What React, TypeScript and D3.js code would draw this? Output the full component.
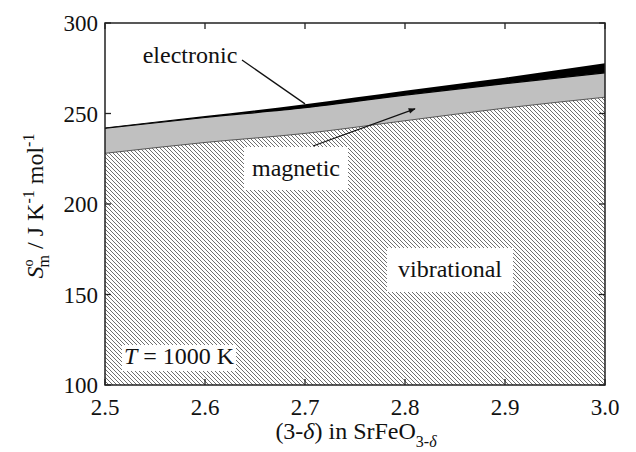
import React from "react";
import * as d3 from "d3";

const COMPOSITION = [2.5, 2.6, 2.7, 2.8, 2.9, 3.0];
const VIBRATIONAL = [228, 234, 239, 246, 253, 259];
const MAGNETIC = [13.8, 13.8, 14.2, 14.2, 13.5, 13.5];
const ELECTRONIC = [0.4, 0.8, 1.9, 2.4, 3.3, 5.2];
const X_TICKS = [2.5, 2.6, 2.7, 2.8, 2.9, 3.0];
const Y_TICKS = [100, 150, 200, 250, 300];

const W = 636, H = 452;
const L = 105, R = 605, T = 23, B = 385;
const FONT = "'Liberation Serif', Tinos, 'Times New Roman', Times, serif";

export default function App() {
  const x = d3.scaleLinear().domain([2.5, 3.0]).range([L, R]);
  const y = d3.scaleLinear().domain([100, 300]).range([B, T]);

  const rows = COMPOSITION.map((c, i) => ({
    c,
    v: VIBRATIONAL[i],
    m: VIBRATIONAL[i] + MAGNETIC[i],
    e: VIBRATIONAL[i] + MAGNETIC[i] + ELECTRONIC[i],
  }));
  type Row = (typeof rows)[number];
  const curve = d3.curveMonotoneX;
  const vibArea = d3.area<Row>().x(d => x(d.c)).y0(() => y(100)).y1(d => y(d.v)).curve(curve);
  const magArea = d3.area<Row>().x(d => x(d.c)).y0(d => y(d.v)).y1(d => y(d.m)).curve(curve);
  const elecArea = d3.area<Row>().x(d => x(d.c)).y0(d => y(d.m)).y1(d => y(d.e)).curve(curve);
  const vibLine = d3.line<Row>().x(d => x(d.c)).y(d => y(d.v)).curve(curve);
  const magLine = d3.line<Row>().x(d => x(d.c)).y(d => y(d.m)).curve(curve);

  const tick = 6;
  const axisColor = "#222";
  const txt = { fontFamily: FONT };

  return (
    <svg width={W} height={H} style={{ position: "absolute", left: 0, top: 0, background: "#fff", fontFamily: FONT }}>
      <defs>
        <pattern id="hatch" width="4" height="4" patternUnits="userSpaceOnUse">
          <rect width="4" height="4" fill="#fff" />
          <path d="M-1,-1 L5,5 M-1,3 L1,5 M3,-1 L5,1" stroke="#555" strokeWidth="0.85" />
        </pattern>
        <clipPath id="plot">
          <rect x={L} y={T} width={R - L} height={B - T} />
        </clipPath>
        <marker id="arrow" viewBox="0 0 10 10" refX="9" refY="5" markerWidth="9" markerHeight="7" orient="auto" markerUnits="userSpaceOnUse">
          <path d="M0,1 L10,5 L0,9 Z" fill="#111" />
        </marker>
      </defs>

      <g clipPath="url(#plot)">
        <path d={vibArea(rows) ?? ""} fill="url(#hatch)" />
        <path d={magArea(rows) ?? ""} fill="#c0c0c0" />
        <path d={elecArea(rows) ?? ""} fill="#000" />
        <path d={vibLine(rows) ?? ""} fill="none" stroke="#555" strokeWidth={1} />
        <path d={magLine(rows) ?? ""} fill="none" stroke="#000" strokeWidth={1.2} />
      </g>

      {/* label boxes */}
      <rect x={244} y={147} width={104} height={43} fill="#fff" />
      <text style={txt} x={296} y={176} fontSize={24} textAnchor="middle" fill="#111">magnetic</text>
      <rect x={387} y={248} width={126} height={44} fill="#fff" />
      <text style={txt} x={450} y={277} fontSize={24} textAnchor="middle" fill="#111">vibrational</text>
      <rect x={122} y={345} width={114} height={26} fill="#fff" />
      <text style={txt} x={179} y={364} fontSize={24} textAnchor="middle" fill="#111">
        <tspan fontStyle="italic">T</tspan> = 1000 K
      </text>
      <text style={txt} x={190} y={63} fontSize={24} textAnchor="middle" fill="#111">electronic</text>

      {/* leaders */}
      <line x1={242} y1={60} x2={x(2.7)} y2={y(255.3)} stroke="#111" strokeWidth={1.3} />
      <line x1={313} y1={146} x2={x(2.81)} y2={y(252.6)} stroke="#111" strokeWidth={1.3} markerEnd="url(#arrow)" />

      {/* frame */}
      <rect x={L} y={T} width={R - L} height={B - T} fill="none" stroke={axisColor} strokeWidth={1.5} />
      {X_TICKS.map(t => (
        <g key={"x" + t}>
          <line x1={x(t)} x2={x(t)} y1={B} y2={B - tick} stroke={axisColor} strokeWidth={1.3} />
          <line x1={x(t)} x2={x(t)} y1={T} y2={T + tick} stroke={axisColor} strokeWidth={1.3} />
          <text style={txt} x={x(t)} y={415} fontSize={23} textAnchor="middle" fill="#111">{t.toFixed(1)}</text>
        </g>
      ))}
      {Y_TICKS.map(t => (
        <g key={"y" + t}>
          <line x1={L} x2={L + tick} y1={y(t)} y2={y(t)} stroke={axisColor} strokeWidth={1.3} />
          <line x1={R} x2={R - tick} y1={y(t)} y2={y(t)} stroke={axisColor} strokeWidth={1.3} />
          <text style={txt} x={98} y={y(t) + 8} fontSize={23} textAnchor="end" fill="#111">{t}</text>
        </g>
      ))}

      {/* x title */}
      <text style={txt} x={356} y={439} fontSize={24} textAnchor="middle" fill="#111">
        (3-<tspan fontStyle="italic">δ</tspan>) in SrFeO
        <tspan fontSize={16} dy={8}>3-</tspan>
        <tspan fontSize={16} fontStyle="italic">δ</tspan>
      </text>

      {/* y title */}
      <text style={txt} transform={`translate(43,206) rotate(-90)`} fontSize={24} textAnchor="middle" fill="#111">
        <tspan fontStyle="italic">S</tspan>
        <tspan fontSize={14} dy={-10}>o</tspan>
        <tspan fontSize={16} dx={-8} dy={16}>m</tspan>
        <tspan dy={-6}> / J K</tspan>
        <tspan fontSize={16} dy={-9}>-1</tspan>
        <tspan dy={9}> mol</tspan>
        <tspan fontSize={16} dy={-9}>-1</tspan>
      </text>
    </svg>
  );
}
